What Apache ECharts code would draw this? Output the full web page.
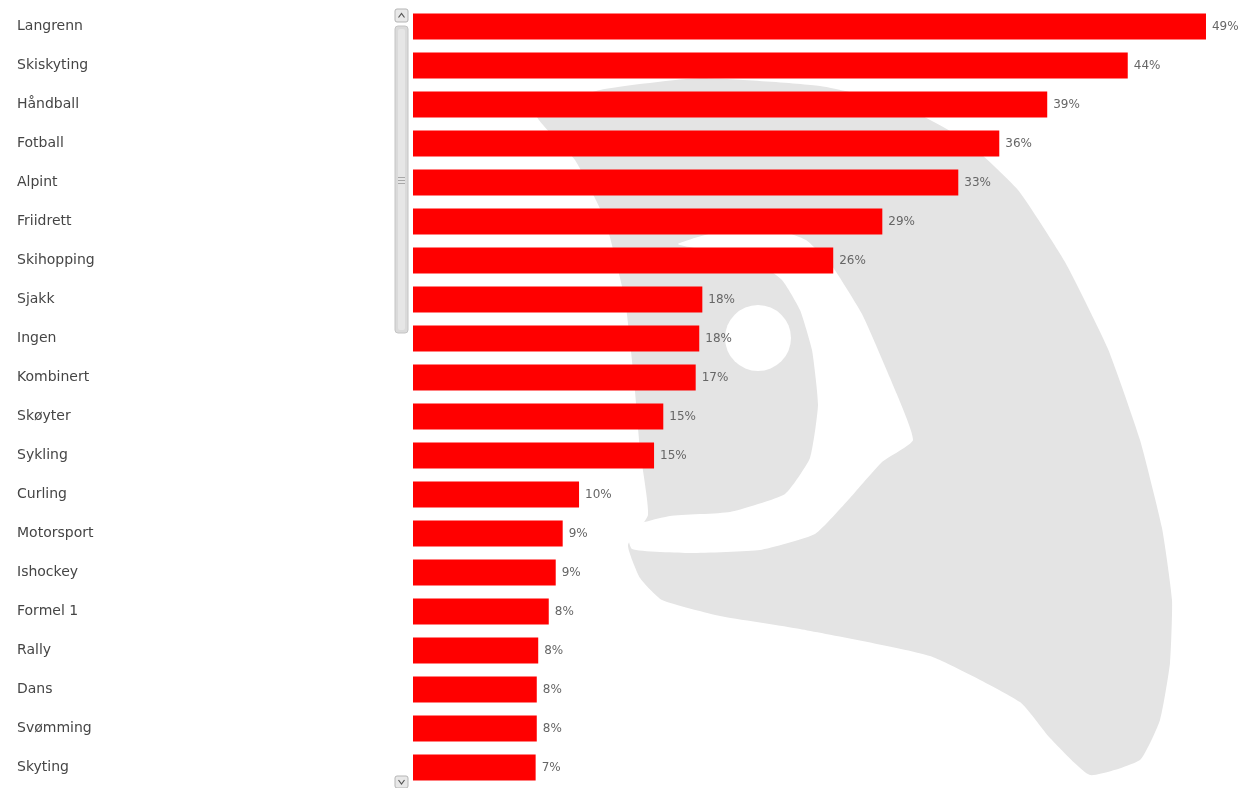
<!DOCTYPE html>
<html>
<head>
<meta charset="utf-8">
<script src="https://cdn.jsdelivr.net/npm/echarts@6/dist/echarts.min.js"></script>
<style>
  html, body { margin: 0; padding: 0; background: #ffffff; }
  #chart { width: 1245px; height: 788px; }
</style>
</head>
<body>
<div id="chart"></div>
<script>
// Categories (top to bottom)
var categories = ['Langrenn', 'Skiskyting', 'Håndball', 'Fotball', 'Alpint', 'Friidrett', 'Skihopping', 'Sjakk', 'Ingen', 'Kombinert', 'Skøyter', 'Sykling', 'Curling', 'Motorsport', 'Ishockey', 'Formel 1', 'Rally', 'Dans', 'Svømming', 'Skyting'];
// Bar lengths (percent)
var values = [48.95, 44.12, 39.15, 36.19, 33.66, 28.97, 25.94, 17.86, 17.67, 17.45, 15.45, 14.88, 10.25, 9.24, 8.81, 8.38, 7.73, 7.64, 7.64, 7.57];
// Printed value labels
var shownPct = ['49%', '44%', '39%', '36%', '33%', '29%', '26%', '18%', '18%', '17%', '15%', '15%', '10%', '9%', '9%', '8%', '8%', '8%', '8%', '7%'];

var chart = echarts.init(document.getElementById('chart'), null, { renderer: 'canvas' });

var logoGray = '#e4e4e4';
var option = {
  backgroundColor: '#ffffff',
  animation: false,
  grid: { left: 413, top: 7, width: 810, height: 780, containLabel: false },
  xAxis: {
    type: 'value', min: 0, max: 50, show: false,
    splitLine: { show: false }
  },
  yAxis: {
    type: 'category', data: categories, inverse: true,
    axisLine: { show: false }, axisTick: { show: false },
    axisLabel: {
      align: 'left', margin: 396, color: '#454545',
      fontFamily: 'DejaVu Sans', fontSize: 14
    }
  },
  series: [{
    type: 'bar', data: values, barWidth: 26, z: 5,
    itemStyle: { color: '#ff0000' },
    label: {
      show: true, position: 'right', distance: 6,
      color: '#666666', fontFamily: 'DejaVu Sans', fontSize: 12,
      formatter: function (p) { return shownPct[p.dataIndex]; }
    }
  }],
  graphic: [
    // Watermark logo (decorative)
    {
      type: 'polygon', z: -10, silent: true,
      shape: {
        smooth: 0.15,
        points: [[536,114],[600,90],[700,78],[820,86],[900,105],[965,140],[1018,190],[1065,262],[1108,349],[1140,440],[1162,528],[1172,600],[1170,663],[1160,720],[1140,760],[1090,775],[1050,738],[1020,702],[930,656],[800,629],[720,616],[662,600],[640,578],[628,545],[648,515],[640,450],[634,380],[625,300],[605,220],[575,160]]
      },
      style: { fill: logoGray }
    },
    {
      type: 'polygon', z: -9, silent: true,
      shape: {
        smooth: 0.15,
        points: [[628,528],[670,516],[730,512],[785,494],[810,458],[818,405],[812,350],[800,310],[782,280],[750,258],[705,250],[678,244],[720,231],[770,228],[806,240],[832,266],[862,314],[890,378],[913,440],[882,462],[850,498],[815,534],[760,550],[690,553],[632,549]]
      },
      style: { fill: '#ffffff' }
    },
    {
      type: 'circle', z: -9, silent: true,
      shape: { cx: 758, cy: 338, r: 33 },
      style: { fill: '#ffffff' }
    },
    // Scrollbar (decorative)
    {
      type: 'rect', z: 10, silent: true,
      shape: { x: 395, y: 9, width: 13, height: 13, r: 2 },
      style: { fill: '#e8e8e8', stroke: '#b5b5b5', lineWidth: 1 }
    },
    {
      type: 'polyline', z: 11, silent: true,
      shape: { points: [[398.5, 17.5], [401.5, 13.5], [404.5, 17.5]] },
      style: { stroke: '#555', lineWidth: 1.2, fill: null }
    },
    {
      type: 'rect', z: 10, silent: true,
      shape: { x: 395, y: 26, width: 13, height: 307, r: 3 },
      style: { fill: '#dadada', stroke: '#c4c4c4', lineWidth: 1 }
    },
    {
      type: 'rect', z: 11, silent: true,
      shape: { x: 398, y: 29, width: 7, height: 301, r: 2 },
      style: { fill: '#e6e6e6' }
    },
    {
      type: 'polyline', z: 12, silent: true,
      shape: { points: [[398, 177.5], [405, 177.5]] },
      style: { stroke: '#a8a8a8', lineWidth: 1 }
    },
    {
      type: 'polyline', z: 12, silent: true,
      shape: { points: [[398, 180.5], [405, 180.5]] },
      style: { stroke: '#a8a8a8', lineWidth: 1 }
    },
    {
      type: 'polyline', z: 12, silent: true,
      shape: { points: [[398, 183.5], [405, 183.5]] },
      style: { stroke: '#a8a8a8', lineWidth: 1 }
    },
    {
      type: 'rect', z: 10, silent: true,
      shape: { x: 395, y: 776, width: 13, height: 12, r: 2 },
      style: { fill: '#e8e8e8', stroke: '#b5b5b5', lineWidth: 1 }
    },
    {
      type: 'polyline', z: 11, silent: true,
      shape: { points: [[398.5, 780], [401.5, 784], [404.5, 780]] },
      style: { stroke: '#555', lineWidth: 1.2, fill: null }
    }
  ]
};
chart.setOption(option);
</script>
</body>
</html>
